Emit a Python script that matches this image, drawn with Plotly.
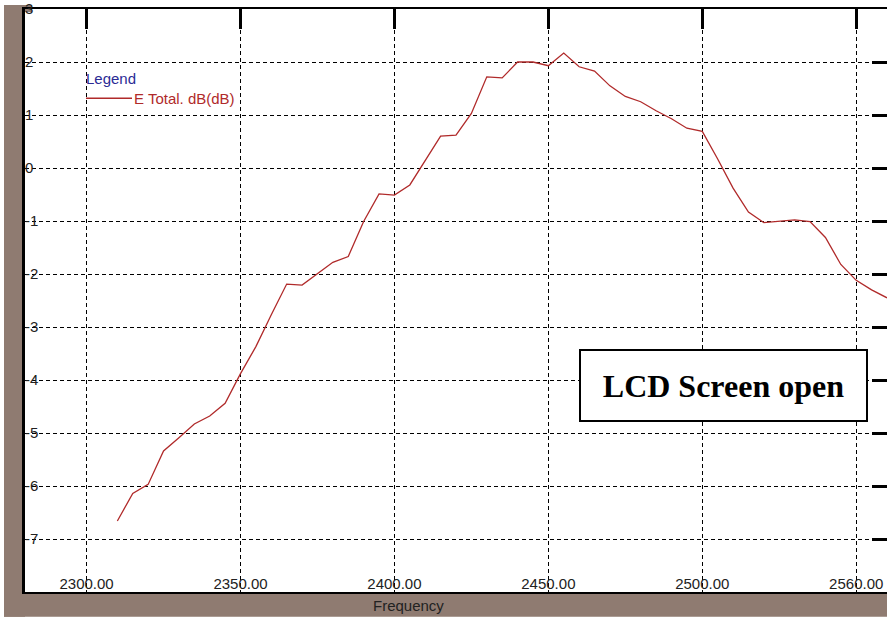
import plotly.graph_objects as go

# ---- data ----
freq = [2310, 2315, 2320, 2325, 2330, 2335, 2340, 2345, 2350, 2355,
        2360, 2365, 2370, 2375, 2380, 2385, 2390, 2395, 2400, 2405,
        2410, 2415, 2420, 2425, 2430, 2435, 2440, 2445, 2450, 2455,
        2460, 2465, 2470, 2475, 2480, 2485, 2490, 2495, 2500, 2505,
        2510, 2515, 2520, 2525, 2530, 2535, 2540, 2545, 2550, 2555, 2560]
e_total_db = [-6.66, -6.14, -5.97, -5.34, -5.09, -4.83, -4.68, -4.44, -3.88, -3.37,
              -2.77, -2.19, -2.21, -2.00, -1.78, -1.67, -1.01, -0.49, -0.51, -0.32,
              0.15, 0.60, 0.62, 1.03, 1.72, 1.70, 2.00, 2.00, 1.93, 2.17,
              1.91, 1.83, 1.55, 1.35, 1.25, 1.08, 0.93, 0.75, 0.69, 0.17,
              -0.38, -0.83, -1.03, -1.01, -0.98, -1.01, -1.31, -1.82, -2.12, -2.30, -2.45]

x_tick_vals = [2300, 2350, 2400, 2450, 2500, 2550]
x_tick_labels = ["2300.00", "2350.00", "2400.00", "2450.00", "2500.00", "2560.00"]
y_tick_vals = [3, 2, 1, 0, -1, -2, -3, -4, -5, -6, -7]
y_tick_labels = ["3", "2", "1", "0", "-1", "-2", "-3", "-4", "-5", "-6", "-7"]
x_range = [2280, 2560]
y_range = [-8, 3]

series_name = "E Total. dB(dB)"
x_title = "Frequency"
note_text = "LCD Screen open"

W, H = 887, 620
ML, MR, MT, MB = 25, 0, 4, 28
PW, PH = W - ML - MR, H - MT - MB


def px_x(p):
    return (p - ML) / PW


def px_y(p):
    return (H - MB - p) / PH


RED = "#b02a2a"
BROWN = "#8f7b71"
FONT = "Liberation Sans, Arial, sans-serif"

fig = go.Figure()
fig.add_trace(go.Scatter(x=freq, y=e_total_db, mode="lines", name=series_name,
                         line=dict(color=RED, width=1.3), showlegend=False))
# carrier for the top / right tick axes
fig.add_trace(go.Scatter(x=[None], y=[None], xaxis="x2", yaxis="y2",
                         showlegend=False, hoverinfo="skip"))

grid = dict(showgrid=True, gridcolor="black", gridwidth=1, griddash="4px,3px", zeroline=False)

fig.update_layout(
    width=W, height=H,
    margin=dict(l=ML, r=MR, t=MT, b=MB, pad=0),
    paper_bgcolor="white", plot_bgcolor="white",
    font=dict(family=FONT, color="#222"),
    xaxis=dict(range=x_range, tickmode="array", tickvals=x_tick_vals, ticktext=x_tick_labels,
               ticks="", ticklabelposition="inside", ticklabeloverflow="allow",
               tickfont=dict(size=15, color="#222", family=FONT),
               showline=True, linecolor="black", linewidth=2, mirror=True, **grid),
    yaxis=dict(range=y_range, tickmode="array", tickvals=y_tick_vals, ticktext=y_tick_labels,
               ticks="", ticklabelposition="inside", ticklabeloverflow="allow",
               tickfont=dict(size=15, color="#222", family=FONT),
               showline=True, linecolor="black", linewidth=3, **grid),
    xaxis2=dict(overlaying="x", side="top", anchor="y2", range=x_range, tickmode="array",
                tickvals=x_tick_vals, ticks="inside", ticklen=20, tickwidth=3, tickcolor="black",
                showticklabels=False, showgrid=False, zeroline=False, showline=False),
    yaxis2=dict(overlaying="y", side="right", anchor="x2", range=y_range, tickmode="array",
                tickvals=y_tick_vals[1:], ticks="inside", ticklen=15, tickwidth=3, tickcolor="black",
                showticklabels=False, showgrid=False, zeroline=False, showline=False),
    shapes=[
        # brown window frame (left and bottom)
        dict(type="rect", xref="paper", yref="paper", layer="below", line=dict(width=0),
             fillcolor=BROWN, x0=px_x(4), x1=0, y0=px_y(617), y1=px_y(0)),
        dict(type="rect", xref="paper", yref="paper", layer="below", line=dict(width=0),
             fillcolor=BROWN, x0=px_x(4), x1=1, y0=px_y(617), y1=px_y(594)),
        dict(type="rect", xref="paper", yref="paper", layer="below", line=dict(width=0),
             fillcolor=BROWN, x0=0, x1=px_x(32), y0=px_y(7), y1=px_y(0)),
        # legend sample line
        dict(type="line", xref="paper", yref="paper", x0=px_x(86), x1=px_x(132),
             y0=px_y(94), y1=px_y(94), line=dict(color=RED, width=1.3)),
    ],
    annotations=[
        dict(text="Legend", xref="paper", yref="paper", x=px_x(84), y=px_y(74),
             xanchor="left", yanchor="middle", showarrow=False,
             font=dict(size=15, color="#2b2b95", family=FONT)),
        dict(text=series_name, xref="paper", yref="paper", x=px_x(132), y=px_y(94),
             xanchor="left", yanchor="middle", showarrow=False,
             font=dict(size=15, color=RED, family=FONT)),
        dict(text=x_title, xref="paper", yref="paper", x=px_x(408), y=px_y(606),
             xanchor="center", yanchor="middle", showarrow=False,
             font=dict(size=15, color="#222", family=FONT)),
        dict(text="<b>" + note_text + "</b>", xref="paper", yref="paper",
             x=px_x(723.5), y=px_y(383.5), xanchor="center", yanchor="middle",
             showarrow=False, width=285, height=69, borderpad=0,
             bordercolor="black", borderwidth=2, bgcolor="white",
             font=dict(size=32, color="black",
                       family="Liberation Serif, Times New Roman, serif")),
    ],
)

fig.write_html("out.html", config={"displayModeBar": False},
               post_script="document.body.style.margin='0';document.body.style.padding='0';"
                           "document.body.style.overflow='hidden';")
